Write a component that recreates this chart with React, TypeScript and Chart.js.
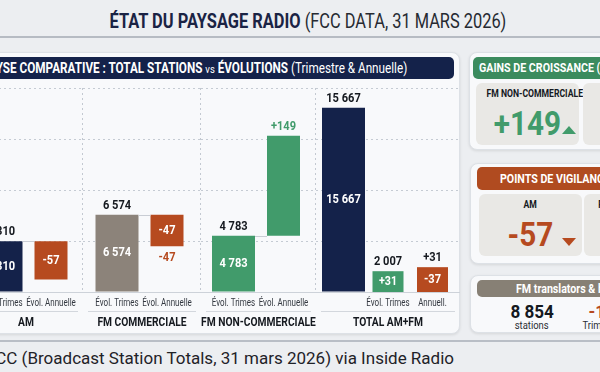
import React, { useEffect, useRef } from "react";
import { Chart, registerables } from "chart.js";

Chart.register(...registerables);

// ---------- data ----------
const groups = ["AM", "FM COMMERCIALE", "FM NON-COMMERCIALE", "TOTAL AM+FM"];
const totalStations = [4310, 6574, 4783, 15667];
const evolTrimestre: (number | null)[] = [null, null, null, 31];
const evolAnnuelle: (number | null)[] = [-57, -47, 149, -37];
const labelAboveTrim = ["", "", "", "2 007"];
const labelInsideAnn = ["-57", "-47", "", "-37"];
const labelOutsideAnn = ["", "-47", "+149", "+31"];
const slotLabelTotal = ["Évol. Trimes", "Évol. Trimes", "Évol. Trimes", ""];
const slotLabelTrim = ["", "", "", "Évol. Trimes"];
const slotLabelAnn = ["Évol. Annuelle", "Évol. Annuelle", "Évol. Annuelle", "Annuell."];

const gainsTiles = ["FM NON-COMMERCIALE", "TOTAL AM+FM"];
const gainsValues = ["+149", "+31"];
const vigilanceTiles = ["AM", "FM COMMERCIALE"];
const vigilanceValues = ["-57", "-47"];
const translatorsValues = ["8 854", "-12"];
const translatorsUnits = ["stations", "Trimestre"];

// ---------- style ----------
const NAVY = "#14224a";
const GRAY = "#8c837a";
const GREEN = "#419b6b";
const ORANGE = "#b64a1f";
const DARK = "#15191f";
const totalColors = [NAVY, GRAY, GREEN, NAVY];
const SX = 0.82;
const FONT = 'Roboto, "Noto Sans", sans-serif';

const Y_MAX = 17341;
const Y_STEP = 3880;
const Y2_MAX = 304;

const GROUP_LEFT = [-31, 83, 201, 316];
const GROUP_WIDTH = [114, 118, 115, 144];
const CANVAS_TOP = 84;
const CANVAS_H = 252;

function fmt(v: number) {
  return String(v).replace(/\B(?=(\d{3})+(?!\d))/g, " ");
}
function fmtSigned(v: number) {
  return (v > 0 ? "+" : "") + String(v);
}

function ctext(ctx: CanvasRenderingContext2D, text: string, x: number, y: number, font: string, color: string, sx = SX) {
  if (!text) return;
  ctx.save();
  ctx.font = font;
  ctx.fillStyle = color;
  ctx.textAlign = "center";
  ctx.textBaseline = "middle";
  ctx.translate(x, y);
  ctx.scale(sx, 1);
  ctx.fillText(text, 0, 0);
  ctx.restore();
}

function makePlugin(g: number) {
  return {
    id: "groupLabels" + g,
    beforeDatasetsDraw(chart: any) {
      const ctx = chart.ctx as CanvasRenderingContext2D;
      const a = chart.chartArea;
      const isTotal = g === groups.length - 1;
      if (!isTotal) {
        ctx.save();
        ctx.strokeStyle = "#c3c9d1";
        ctx.lineWidth = 1;
        ctx.setLineDash([2, 3]);
        ctx.beginPath();
        ctx.moveTo(a.right - 0.5, a.top);
        ctx.lineTo(a.right - 0.5, a.bottom);
        ctx.stroke();
        ctx.restore();
      }
    },
    afterDatasetsDraw(chart: any) {
      const ctx = chart.ctx as CanvasRenderingContext2D;
      const a = chart.chartArea;
      const isTotal = g === groups.length - 1;
      const els = [0, 1, 2].map((i) => {
        const raw = chart.data.datasets[i].data[0];
        if (raw == null) return null;
        const el = chart.getDatasetMeta(i).data[0];
        const p = el.getProps(["x", "y", "base", "width"], true);
        return { x: p.x, w: p.width, top: Math.min(p.y, p.base), bottom: Math.max(p.y, p.base) };
      });
      const [bt, bq, ba] = els;
      const bold = (s: number) => `bold ${s}px ${FONT}`;
      const sub = `10px ${FONT}`;
      const subColor = "#343941";

      // waterfall connector
      if (bt && ba && !isTotal) {
        ctx.save();
        ctx.strokeStyle = "#c9cdd4";
        ctx.lineWidth = 1;
        ctx.beginPath();
        ctx.moveTo(bt.x + bt.w / 2, Math.round(bt.top) + 0.5);
        ctx.lineTo(ba.x - ba.w / 2, Math.round(bt.top) + 0.5);
        ctx.stroke();
        ctx.restore();
      }

      if (bt) {
        ctext(ctx, fmt(totalStations[g]), bt.x, bt.top - 9.5, bold(13.5), DARK);
        ctext(ctx, fmt(totalStations[g]), bt.x, (bt.top + bt.bottom) / 2, bold(13.5), "#ffffff");
        ctext(ctx, slotLabelTotal[g], bt.x, a.bottom + 11.5, sub, subColor, 0.8);
      }
      if (bq) {
        const v = evolTrimestre[g] as number;
        ctext(ctx, fmtSigned(v), bq.x, (bq.top + bq.bottom) / 2, bold(13), "#ffffff");
        ctext(ctx, labelAboveTrim[g], bq.x, bq.top - 9.5, bold(13.5), DARK);
        ctext(ctx, slotLabelTrim[g], bq.x, a.bottom + 11.5, sub, subColor, 0.8);
      }
      if (ba) {
        const v = evolAnnuelle[g] as number;
        ctext(ctx, labelInsideAnn[g], ba.x, (ba.top + ba.bottom) / 2, bold(13.5), "#ffffff");
        const col = isTotal ? DARK : v < 0 ? ORANGE : GREEN;
        const y = v < 0 && !isTotal ? ba.bottom + 11 : ba.top - 9.5;
        ctext(ctx, labelOutsideAnn[g], ba.x, y, bold(13.5), col);
        ctext(ctx, slotLabelAnn[g], ba.x, a.bottom + 11.5, sub, subColor, 0.8);
      }

      // underline and group name
      ctx.save();
      ctx.strokeStyle = "#d3d7dd";
      ctx.lineWidth = 1;
      ctx.beginPath();
      ctx.moveTo(a.left + 5, Math.round(a.bottom + 19) + 0.5);
      ctx.lineTo(a.right - 5, Math.round(a.bottom + 19) + 0.5);
      ctx.stroke();
      ctx.restore();
      ctext(ctx, groups[g], (a.left + a.right) / 2, a.bottom + 30.5, bold(12.5), DARK);
    },
  };
}

function GroupChart({ g }: { g: number }) {
  const ref = useRef<HTMLCanvasElement>(null);
  const width = GROUP_WIDTH[g];
  useEffect(() => {
    if (!ref.current) return;
    const isTotal = g === groups.length - 1;
    const k = Y2_MAX / Y_MAX;
    const base = totalStations[g] * k;
    const q = evolTrimestre[g];
    const an = evolAnnuelle[g];
    const trimData = q == null ? null : isTotal ? [0, Math.abs(q)] : [base, base + q];
    const annData = an == null ? null : isTotal ? [0, Math.abs(an)] : [base, base + an];
    const nBars = 1 + (q != null ? 1 : 0) + (an != null ? 1 : 0);
    const spacing = nBars === 3 ? 44.5 : 50;
    const cp = Math.min(1, (spacing * nBars) / width);
    const bp = (px: number) => Math.min(1, px / spacing);
    const chart = new Chart(ref.current, {
      type: "bar",
      data: {
        labels: [groups[g]],
        datasets: [
          {
            label: "Total stations",
            data: [totalStations[g]],
            yAxisID: "y",
            backgroundColor: totalColors[g],
            barPercentage: bp(43),
          },
          {
            label: "Évol. Trimestrielle",
            data: [trimData as any],
            yAxisID: "y2",
            backgroundColor: q != null && q < 0 ? ORANGE : GREEN,
            barPercentage: bp(31),
          },
          {
            label: "Évol. Annuelle",
            data: [annData as any],
            yAxisID: "y2",
            backgroundColor: an != null && an < 0 ? ORANGE : GREEN,
            barPercentage: bp(isTotal ? 31 : 33),
          },
        ],
      },
      options: {
        animation: false,
        responsive: false,
        layout: { padding: { top: 4, bottom: 44, left: 0, right: 0 } },
        datasets: {
          bar: { skipNull: true, categoryPercentage: cp, borderWidth: 0 } as any,
        },
        plugins: { legend: { display: false }, tooltip: { enabled: false } },
        scales: {
          x: {
            display: true,
            ticks: { display: false },
            grid: { display: false, drawTicks: false },
            border: { display: true, color: "#cdd2d9", width: 1 },
          },
          y: {
            min: 0,
            max: Y_MAX,
            ticks: { display: false, stepSize: Y_STEP, includeBounds: false } as any,
            grid: {
              drawTicks: false,
              color: (c: any) => (c.tick && c.tick.value === 0 ? "rgba(0,0,0,0)" : "#c5cbd3"),
              lineWidth: 1,
            },
            border: { display: false, dash: [2, 3] },
          },
          y2: { display: false, min: 0, max: Y2_MAX },
        },
      },
      plugins: [makePlugin(g)],
    });
    return () => chart.destroy();
  }, [g, width]);
  return (
    <div style={{ position: "absolute", left: GROUP_LEFT[g], top: CANVAS_TOP, width, height: CANVAS_H }}>
      <canvas ref={ref} width={width} height={CANVAS_H} style={{ display: "block" }} />
    </div>
  );
}

function Cond({ children, origin = "center", sx = SX, style = {} }: any) {
  return (
    <span
      style={{
        display: "inline-block",
        transform: `scaleX(${sx})`,
        transformOrigin: origin,
        whiteSpace: "nowrap",
        ...style,
      }}
    >
      {children}
    </span>
  );
}

const abs = (l: number, t: number, w: number, h: number, extra: any = {}) => ({
  position: "absolute" as const,
  left: l,
  top: t,
  width: w,
  height: h,
  ...extra,
});

const card = { background: "#f8f9fb", borderRadius: 8, border: "1px solid #dde1e6", boxShadow: "0 1px 3px rgba(0,0,0,0.10)", boxSizing: "border-box" as const };
const tile = { background: "#e9e8e5", borderRadius: 6 };

function Tri({ up, color, left, top }: any) {
  return (
    <div
      style={{
        position: "absolute",
        left,
        top,
        width: 0,
        height: 0,
        borderLeft: "7px solid transparent",
        borderRight: "7px solid transparent",
        ...(up ? { borderBottom: `8px solid ${color}` } : { borderTop: `8px solid ${color}` }),
      }}
    />
  );
}

function Tile({ left, top, label, value, color }: any) {
  return (
    <div style={abs(left, top, 103, 62, tile)}>
      <div style={{ position: "absolute", left: 0, top: 4, width: "100%", textAlign: "center", fontSize: 10.5, lineHeight: "14px", fontWeight: 700, color: DARK }}>
        <Cond>{label}</Cond>
      </div>
      <div style={{ position: "absolute", left: 0, top: 23, width: "100%", textAlign: "center", fontSize: 33, lineHeight: "36px", fontWeight: 700, color }}>
        <Cond sx={0.9}>{value}</Cond>
      </div>
    </div>
  );
}

export default function App() {
  return (
    <div
      style={{
        position: "fixed",
        left: 0,
        top: 0,
        width: 600,
        height: 372,
        overflow: "hidden",
        background: "#eceef1",
        fontFamily: FONT,
      }}
    >
      {/* title */}
      <div style={{ position: "absolute", left: 0, top: 9, width: 616, textAlign: "center", fontSize: 20, lineHeight: "24px", whiteSpace: "nowrap" }}>
        <Cond>
          <span style={{ fontWeight: 700, color: "#1a2344" }}>ÉTAT DU PAYSAGE RADIO</span>
          <span style={{ fontWeight: 400, color: "#262a31" }}> (FCC DATA, 31 MARS 2026)</span>
        </Cond>
      </div>
      <div style={abs(0, 36, 600, 2, { background: "#b6bbc3" })} />

      {/* left panel */}
      <div style={abs(-20, 52, 480, 282, card)} />
      <div style={abs(-15, 57, 469, 22, { background: NAVY, borderRadius: 5 })} />
      <div style={{ position: "absolute", right: 193, top: 57, height: 22, lineHeight: "22px", color: "#fff", fontSize: 14.3, whiteSpace: "nowrap" }}>
        <Cond origin="right center">
          <b>ANALYSE COMPARATIVE : TOTAL STATIONS</b> <span style={{ fontSize: 11.5 }}>vs</span> <b>ÉVOLUTIONS</b> <span>(Trimestre &amp; Annuelle)</span>
        </Cond>
      </div>
      {groups.map((_, g) => (
        <GroupChart key={g} g={g} />
      ))}

      {/* card A: gains */}
      <div style={abs(469, 52, 160, 98, card)} />
      <div style={abs(473, 57, 150, 22, { background: "#3b8b5e", borderRadius: 5 })} />
      <div style={{ position: "absolute", left: 479, top: 57, lineHeight: "22px", fontSize: 13, fontWeight: 700, color: "#fff", whiteSpace: "nowrap" }}>
        <Cond origin="left center">GAINS DE CROISSANCE (ANNUELLE)</Cond>
      </div>
      <Tile left={476} top={83} label={gainsTiles[0]} value={gainsValues[0]} color={GREEN} />
      <Tri up color={GREEN} left={562} top={126} />
      <Tile left={583} top={83} label={gainsTiles[1]} value={gainsValues[1]} color={GREEN} />

      {/* card B: vigilance */}
      <div style={abs(470, 163, 160, 101, card)} />
      <div style={abs(477, 167, 150, 23, { background: "#b04b20", borderRadius: 5 })} />
      <div style={{ position: "absolute", left: 500, top: 167, lineHeight: "23px", fontSize: 13, fontWeight: 700, color: "#fff", whiteSpace: "nowrap" }}>
        <Cond origin="left center">POINTS DE VIGILANCE (ANNUELLE)</Cond>
      </div>
      <Tile left={479} top={194} label={vigilanceTiles[0]} value={vigilanceValues[0]} color={ORANGE} />
      <Tri up={false} color={ORANGE} left={562} top={238} />
      <Tile left={584} top={194} label={vigilanceTiles[1]} value={vigilanceValues[1]} color={ORANGE} />

      {/* card C: translators */}
      <div style={abs(470, 275, 160, 58, card)} />
      <div style={abs(477, 280, 150, 17, { background: "#878075", borderRadius: 5 })} />
      <div style={{ position: "absolute", left: 516, top: 280, lineHeight: "17px", fontSize: 13, fontWeight: 700, color: "#fff", whiteSpace: "nowrap" }}>
        <Cond origin="left center">FM translators &amp; boosters</Cond>
      </div>
      <div style={{ position: "absolute", left: 482, top: 301, width: 100, textAlign: "center", fontSize: 19, lineHeight: "22px", fontWeight: 700, color: DARK }}>
        <Cond sx={0.9}>{translatorsValues[0]}</Cond>
      </div>
      <div style={{ position: "absolute", left: 482, top: 318, width: 100, textAlign: "center", fontSize: 11.5, lineHeight: "14px", color: "#2a2e35" }}>
        <Cond>{translatorsUnits[0]}</Cond>
      </div>
      <div style={{ position: "absolute", left: 552, top: 301, width: 100, textAlign: "center", fontSize: 19, lineHeight: "22px", fontWeight: 700, color: ORANGE }}>
        <Cond sx={0.9}>{translatorsValues[1]}</Cond>
      </div>
      <div style={{ position: "absolute", left: 552, top: 318, width: 100, textAlign: "center", fontSize: 11.5, lineHeight: "14px", color: "#2a2e35" }}>
        <Cond>{translatorsUnits[1]}</Cond>
      </div>

      {/* footer */}
      <div style={abs(0, 340, 600, 2, { background: "#b9bec6" })} />
      <div style={{ position: "absolute", right: 146, top: 347, fontSize: 17, lineHeight: "22px", color: "#1f2228", whiteSpace: "nowrap" }}>
        Source : FCC (Broadcast Station Totals, 31 mars 2026) via Inside Radio
      </div>
    </div>
  );
}
